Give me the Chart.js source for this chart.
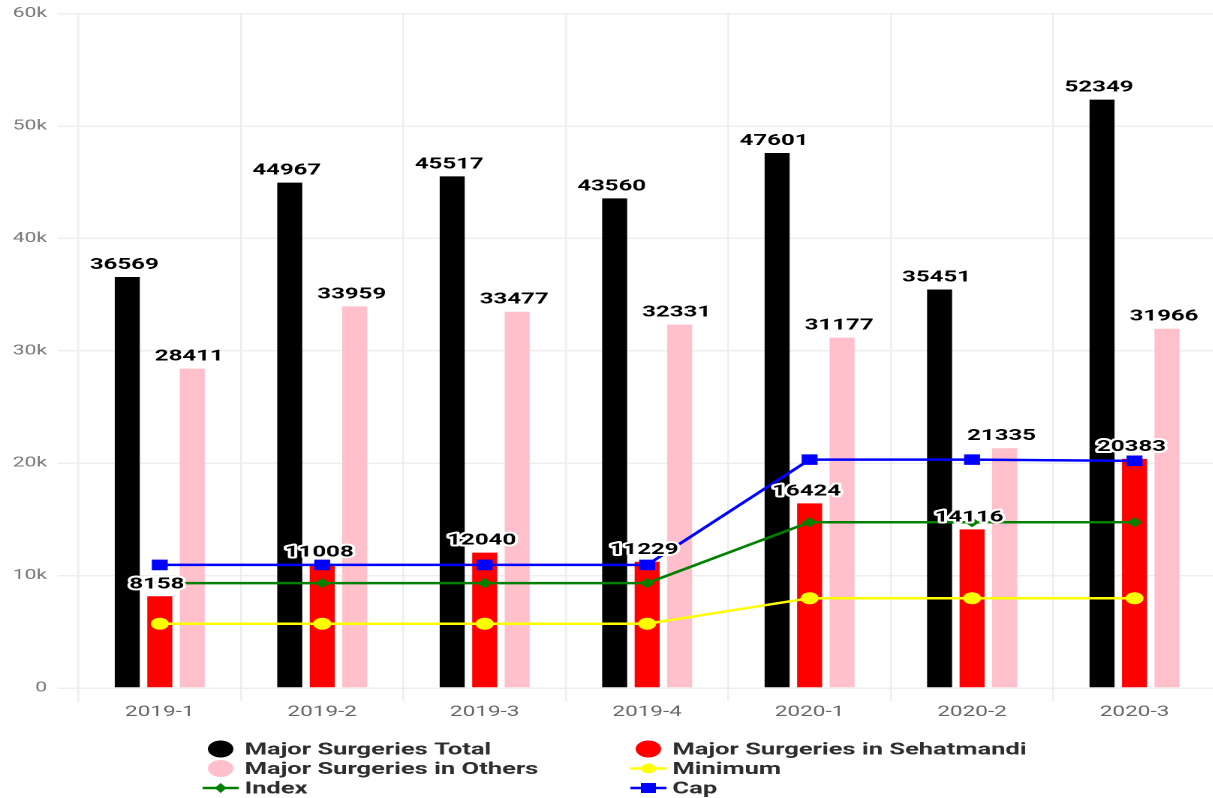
<!DOCTYPE html>
<html>
<head>
<meta charset="utf-8">
<title>Major Surgeries</title>
<script src="https://cdn.jsdelivr.net/npm/chart.js@4.4.1/dist/chart.umd.min.js"></script>
<style>
  html, body { margin: 0; padding: 0; background: #fff; overflow: hidden; }
  /* the chart is drawn narrow and widened sideways */
  #wrap { position: absolute; left: 0; top: 0; width: 817.5px; height: 798px; transform: scaleX(1.5); transform-origin: 0 0; }
</style>
</head>
<body>
<div id="wrap"><canvas id="chart"></canvas></div>
<script>
const quarters = ['2019-1', '2019-2', '2019-3', '2019-4', '2020-1', '2020-2', '2020-3'];

const surgeriesTotal = [36569, 44967, 45517, 43560, 47601, 35451, 52349];
const surgeriesSehatmandi = [8158, 11008, 12040, 11229, 16424, 14116, 20383];
const surgeriesOthers = [28411, 33959, 33477, 32331, 31177, 21335, 31966];

const minimumLine = [5720, 5720, 5720, 5720, 7990, 7990, 7990];
const indexLine = [9330, 9330, 9330, 9330, 14750, 14750, 14750];
const capLine = [10950, 10950, 10950, 10950, 20320, 20320, 20210];

const yTicks = [0, 10000, 20000, 30000, 40000, 50000, 60000];

Chart.defaults.font.family = 'Roboto';

// value labels above each bar; the red series gets a white halo
const barLabels = {
    id: 'barLabels',
    afterDatasetsDraw(chart) {
        const ctx = chart.ctx;
        ctx.save();
        ctx.font = 'bold 16px Roboto';
        ctx.textAlign = 'center';
        ctx.textBaseline = 'alphabetic';
        ctx.lineJoin = 'round';
        chart.data.datasets.forEach((ds, i) => {
            if (ds.type === 'line') return;
            chart.getDatasetMeta(i).data.forEach((bar, j) => {
                const txt = String(ds.data[j]);
                const y = bar.y - 8;
                if (ds.label === 'Major Surgeries in Sehatmandi') {
                    ctx.lineWidth = 4;
                    ctx.strokeStyle = '#fff';
                    ctx.strokeText(txt, bar.x - 2, y);
                }
                ctx.fillStyle = '#000';
                ctx.fillText(txt, bar.x - 2, y);
            });
        });
        ctx.restore();
    }
};

// two column legend under the axis
const bottomLegend = {
    id: 'bottomLegend',
    afterDraw(chart) {
        const ctx = chart.ctx;
        const cols = [147, 432];
        const rows = [749, 768.5, 788];
        ctx.save();
        ctx.font = 'bold 17px Roboto';
        ctx.textBaseline = 'middle';
        ctx.textAlign = 'left';
        chart.data.datasets.forEach((ds, i) => {
            const x = cols[i % 2];
            const y = rows[Math.floor(i / 2)];
            const color = ds.type === 'line' ? ds.borderColor : ds.backgroundColor;
            ctx.fillStyle = color;
            if (ds.type !== 'line') {
                ctx.beginPath();
                ctx.arc(x, y, 8.5, 0, Math.PI * 2);
                ctx.fill();
            } else {
                ctx.strokeStyle = color;
                ctx.lineWidth = 2.5;
                ctx.beginPath();
                ctx.moveTo(x - 12, y);
                ctx.lineTo(x + 12, y);
                ctx.stroke();
                ctx.beginPath();
                if (ds.pointStyle === 'circle') {
                    ctx.arc(x, y, 5, 0, Math.PI * 2);
                } else if (ds.pointStyle === 'rectRot') {
                    ctx.moveTo(x, y - 5); ctx.lineTo(x + 4, y); ctx.lineTo(x, y + 5); ctx.lineTo(x - 4, y); ctx.closePath();
                } else {
                    ctx.rect(x - 5, y - 5, 10, 10);
                }
                ctx.fill();
            }
            ctx.fillStyle = '#2e2e2e';
            ctx.fillText(ds.label, x + 16, y + 1);
        });
        ctx.restore();
    }
};

function lineSet(label, data, color, style, radius) {
    return {
        type: 'line',
        label: label,
        data: data,
        borderColor: color,
        backgroundColor: color,
        borderWidth: 2.5,
        pointStyle: style,
        pointRadius: radius,
        pointBorderWidth: 0,
        tension: 0,
        order: 0
    };
}

new Chart(document.getElementById('chart'), {
    type: 'bar',
    data: {
        labels: quarters,
        datasets: [
            { label: 'Major Surgeries Total', data: surgeriesTotal, backgroundColor: '#000000', order: 1 },
            { label: 'Major Surgeries in Sehatmandi', data: surgeriesSehatmandi, backgroundColor: '#ff0000', order: 1 },
            { label: 'Major Surgeries in Others', data: surgeriesOthers, backgroundColor: '#ffc0cb', order: 1 },
            lineSet('Minimum', minimumLine, '#ffff00', 'circle', 6),
            lineSet('Index', indexLine, '#008000', 'rectRot', 5),
            lineSet('Cap', capLine, '#0000ff', 'rect', 7.5)
        ]
    },
    options: {
        responsive: true,
        maintainAspectRatio: false,
        animation: false,
        devicePixelRatio: 2,
        categoryPercentage: 0.6,
        barPercentage: 0.77,
        layout: { padding: { top: 1, left: 1.5, right: 0, bottom: 75 } },
        plugins: {
            legend: { display: false },
            tooltip: { enabled: false }
        },
        scales: {
            x: {
                grid: { color: '#eeeeee', lineWidth: 1.3, tickLength: 13, offset: true },
                border: { display: false },
                ticks: { color: '#666666', font: { size: 15 }, padding: 2 }
            },
            y: {
                min: 0,
                max: 60000,
                afterBuildTicks: axis => { axis.ticks = yTicks.map(v => ({ value: v })); },
                grid: { color: '#eeeeee', lineWidth: 1.5, tickLength: 14 },
                border: { display: false },
                ticks: {
                    color: '#777777',
                    font: { size: 14, lineHeight: 0.95 },
                    padding: 7,
                    callback: v => v === 0 ? '0' : (v / 1000) + 'k'
                }
            }
        }
    },
    plugins: [barLabels, bottomLegend]
});
</script>
</body>
</html>
